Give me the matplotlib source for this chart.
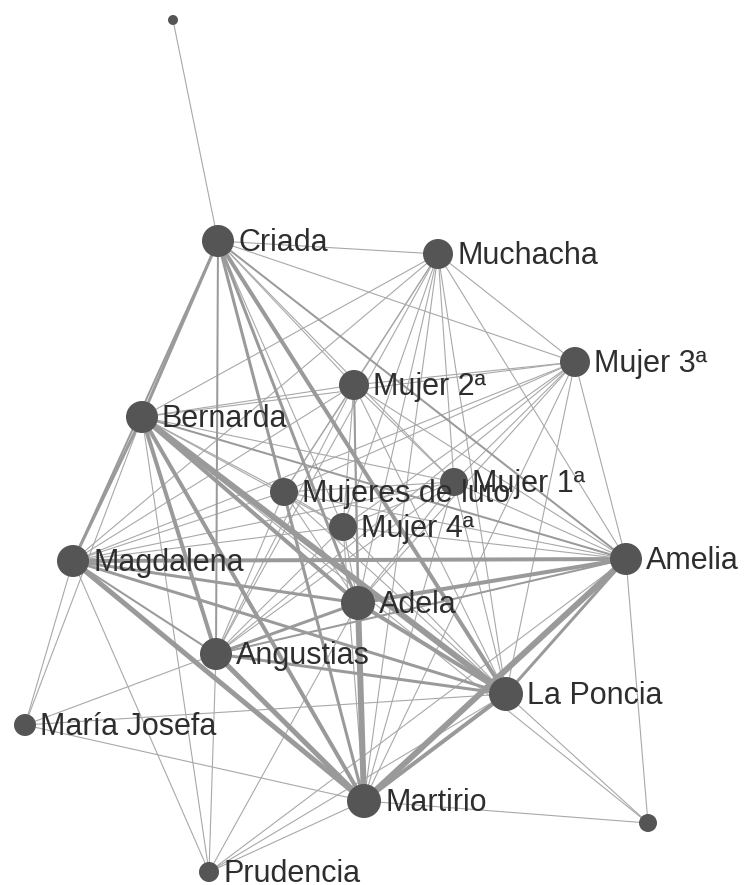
import matplotlib
matplotlib.use("Agg")
import matplotlib.pyplot as plt

# ---- data ----
names = ["", "Criada", "Muchacha", "Mujer 3ª", "Mujer 2ª", "Bernarda", "Mujer 1ª",
         "Mujeres de luto", "Mujer 4ª", "Magdalena", "Amelia", "Adela", "Angustias",
         "La Poncia", "María Josefa", "Martirio", "", "Prudencia"]
node_x = [173, 218, 438, 575, 354, 142, 454, 284, 343, 73, 626, 358, 216, 506, 25, 364, 648, 209]
node_y = [20, 241, 254, 362, 385, 417, 482, 492, 527, 561, 559, 603, 654, 694, 725, 801, 823, 872]
node_size = [5, 16, 15, 15, 15, 16, 14, 14, 14, 16, 16, 17, 16, 17, 11, 17, 9, 10]

main = ["Criada", "Bernarda", "Magdalena", "Amelia", "Adela", "Angustias", "La Poncia", "Martirio"]
funeral = ["Mujeres de luto", "Muchacha", "Mujer 1ª", "Mujer 2ª", "Mujer 3ª", "Mujer 4ª"]

main_weights = {
    ("Criada", "Bernarda"): 3, ("Criada", "Magdalena"): 2, ("Criada", "Amelia"): 2,
    ("Criada", "Adela"): 3, ("Criada", "Angustias"): 2, ("Criada", "La Poncia"): 4,
    ("Criada", "Martirio"): 3, ("Bernarda", "Magdalena"): 3, ("Bernarda", "Amelia"): 2,
    ("Bernarda", "Adela"): 4, ("Bernarda", "Angustias"): 4, ("Bernarda", "La Poncia"): 6,
    ("Bernarda", "Martirio"): 4, ("Magdalena", "Amelia"): 4, ("Magdalena", "Adela"): 3,
    ("Magdalena", "Angustias"): 2, ("Magdalena", "La Poncia"): 3, ("Magdalena", "Martirio"): 5,
    ("Amelia", "Adela"): 4, ("Amelia", "Angustias"): 2, ("Amelia", "La Poncia"): 3,
    ("Amelia", "Martirio"): 6, ("Adela", "Angustias"): 3, ("Adela", "La Poncia"): 4,
    ("Adela", "Martirio"): 6, ("Angustias", "La Poncia"): 3, ("Angustias", "Martirio"): 5,
    ("La Poncia", "Martirio"): 4,
}

extra_edges = [  # (source index, target index, weight)
    (0, 1, 1),
    (16, 10, 1), (16, 13, 1), (16, 15, 1), (16, 5, 1),
    (14, 9, 1), (14, 5, 1), (14, 12, 1), (14, 13, 1), (14, 15, 1),
    (17, 9, 1), (17, 5, 1), (17, 12, 1), (17, 11, 1), (17, 15, 1), (17, 13, 1), (17, 10, 1),
]
special_weights = {("Mujer 2ª", "Adela"): 2}

# ---- build edges ----
idx = {n: i for i, n in enumerate(names) if n}
edges = []
for (a, b), w in main_weights.items():
    edges.append((idx[a], idx[b], w))
for i, a in enumerate(funeral):
    for b in funeral[i + 1:]:
        edges.append((idx[a], idx[b], 1))
    for b in main:
        edges.append((idx[a], idx[b], special_weights.get((a, b), 1)))
edges += extra_edges

W, H = 744, 885
fig = plt.figure(figsize=(W / 100, H / 100), dpi=100)
ax = fig.add_axes([0, 0, 1, 1])
ax.set_xlim(0, W)
ax.set_ylim(H, 0)
ax.axis("off")

px = 0.72  # points per pixel at 100 dpi
edges.sort(key=lambda e: e[2])
for s, t, w in edges:
    if w == 1:
        lw, col = 1.1, "#a8a8a8"
    else:
        lw, col = float(w), "#9a9a9a"
    ax.plot([node_x[s], node_x[t]], [node_y[s], node_y[t]], color=col,
            lw=lw * px, solid_capstyle="butt", zorder=1)

ax.scatter(node_x, node_y, s=[(2 * r * px) ** 2 for r in node_size], color="#555555",
           linewidths=0, zorder=3)

fs = 22
for n, x, y, r in zip(names, node_x, node_y, node_size):
    if n:
        ax.text(x + r + 4, y + 10, n, fontsize=fs, family=["Liberation Sans", "DejaVu Sans"],
                color="#2e2e2e", va="baseline", ha="left", zorder=4)

fig.savefig("out.png", dpi=100, facecolor="white")
